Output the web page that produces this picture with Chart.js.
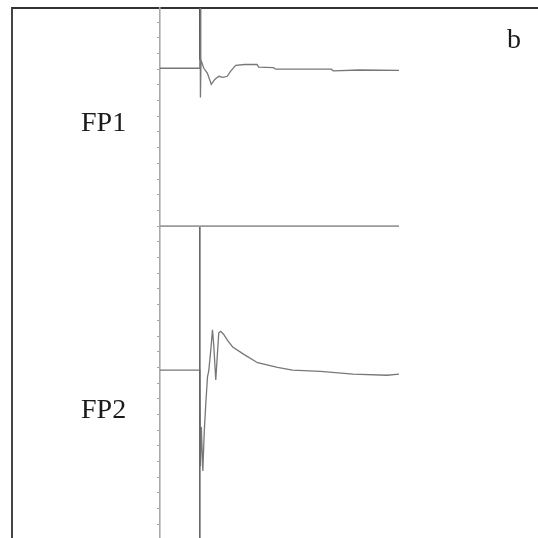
<!DOCTYPE html>
<html>
<head>
<meta charset="utf-8">
<script src="https://cdn.jsdelivr.net/npm/chart.js@4"></script>
<style>
    html, body { margin: 0; padding: 0; background: #fff; }
    #wrap { position: relative; width: 538px; height: 538px; overflow: hidden; }
    #frame {
        position: absolute; left: 11px; top: 7px; right: -2px; bottom: -2px;
        border-top: 2px solid #333; border-left: 2px solid #444;
    }
    .lbl {
        position: absolute; font-family: "Liberation Serif", serif;
        font-size: 28px; line-height: 28px; color: #1a1a1a;
    }
    canvas { position: absolute; left: 0; top: 0; }
</style>
</head>
<body>
<div id="wrap">
    <div id="frame"></div>
    <canvas id="chart" width="538" height="538"></canvas>
    <div class="lbl" style="left:81px; top:108px;">FP1</div>
    <div class="lbl" style="left:81px; top:395px;">FP2</div>
    <div class="lbl" style="left:507px; top:25px;">b</div>
</div>
<script>
// time axis (arbitrary units, stimulus at 40) and amplitude in tick divisions
const stimTime = 40;
const separatorLevel = 0;

const fp1Time = [0, 40, 40.3, 40.6, 41.2, 44, 47.5, 51.5, 55, 59, 63, 67.5, 71, 76, 85, 97.5, 99, 114, 116, 172, 174, 200, 240];
const fp1Values = [10.06, 10.06, 13.9, 8.2, 10.57, 10.06, 9.75, 9.04, 9.35, 9.55, 9.48, 9.55, 9.88, 10.25, 10.3, 10.3, 10.13, 10.1, 10.0, 10.0, 9.9, 9.95, 9.93];

const fp2Time = [0, 40, 40.6, 41.5, 43, 44.5, 46, 47.7, 49, 51, 52.7, 54, 56, 57.5, 59, 61, 64, 68, 73, 85, 98, 118, 133, 161, 194, 228, 240];
const fp2Values = [-9.17, -9.17, -15.3, -12.8, -15.6, -13.0, -11.3, -9.6, -9.2, -7.9, -6.6, -7.6, -9.8, -8.3, -6.8, -6.7, -6.9, -7.3, -7.7, -8.2, -8.7, -9.0, -9.17, -9.25, -9.43, -9.5, -9.43];

const separatorTime = [0, 240];
const stimUpperValues = [13.9, 10.6];
const stimLowerValues = [separatorLevel, -19.87];

const yMin = -19.87;
const yMax = 13.9;

function pts(xs, ys) {
    return xs.map(function (x, i) { return { x: x, y: ys[i] }; });
}

const ctx = document.getElementById('chart').getContext('2d');
new Chart(ctx, {
    type: 'line',
    data: {
        datasets: [
            {
                data: pts(separatorTime, [separatorLevel, separatorLevel]),
                borderColor: '#9a9a9a', borderWidth: 1.6
            },
            {
                data: pts([stimTime, stimTime], stimLowerValues),
                borderColor: '#666', borderWidth: 1.6
            },
            {
                data: pts(fp1Time, fp1Values),
                borderColor: '#777', borderWidth: 1.3
            },
            {
                data: pts([stimTime + 0.3, stimTime + 0.3], stimUpperValues),
                borderColor: '#333', borderWidth: 2.2
            },
            {
                data: pts(fp2Time, fp2Values),
                borderColor: '#777', borderWidth: 1.3
            }
        ]
    },
    options: {
        responsive: false,
        animation: false,
        layout: { padding: { left: 157, right: 139, top: 8, bottom: 0 } },
        elements: { point: { radius: 0 }, line: { tension: 0 } },
        plugins: { legend: { display: false }, tooltip: { enabled: false } },
        scales: {
            x: { type: 'linear', display: false, min: 0, max: 240 },
            y: {
                type: 'linear', min: yMin, max: yMax,
                border: { display: true, color: '#aaa', width: 1.6 },
                grid: { drawOnChartArea: false, drawTicks: true, tickLength: 3, color: '#aaa' },
                ticks: { display: false, stepSize: 1, includeBounds: false }
            }
        }
    }
});
</script>
</body>
</html>
